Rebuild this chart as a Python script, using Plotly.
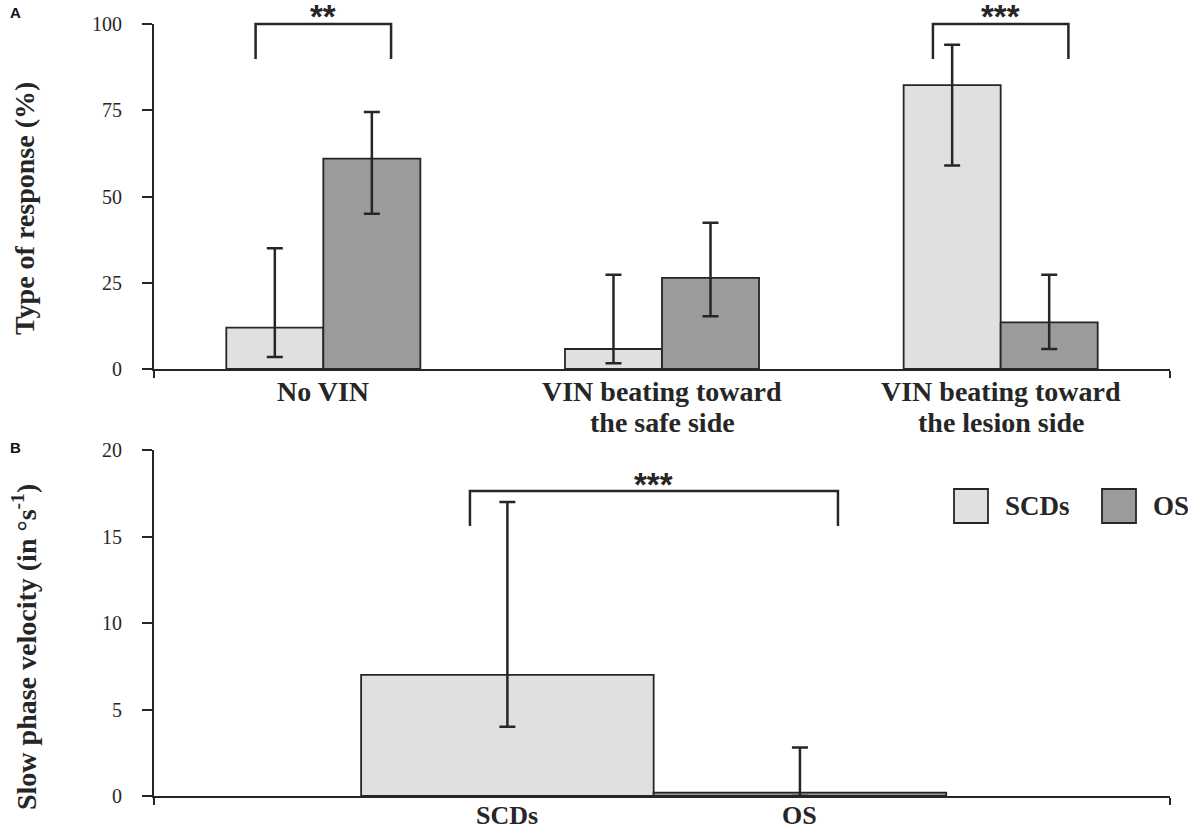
import plotly.graph_objects as go

W, H = 1188, 830

# ---------------- data ----------------
# Panel A
cat_a = ["No VIN", "VIN beating toward|the safe side", "VIN beating toward|the lesion side"]
scd_a = [12.0, 5.8, 82.3]
scd_a_hi = [35.0, 27.3, 94.0]
scd_a_lo = [3.5, 1.7, 59.0]
os_a = [61.0, 26.4, 13.5]
os_a_hi = [74.5, 42.4, 27.3]
os_a_lo = [45.0, 15.3, 5.8]
yticks_a = [0, 25, 50, 75, 100]

# Panel B
cat_b = ["SCDs", "OS"]
val_b = [7.0, 0.2]
val_b_hi = [17.0, 2.8]
val_b_lo = [4.0, 0.0]
yticks_b = [0, 5, 10, 15, 20]

series_names = ["SCDs", "OS"]
LIGHT = "#e0e0e0"
DARK = "#9b9b9b"
INK = "#262626"

SERIF = "Liberation Serif, Times New Roman, serif"
SANS = "Liberation Sans, Arial, sans-serif"


def px(x):
    return x / W


def py(y):
    return 1 - y / H


fig = go.Figure()

# domains
xdom = [px(154), px(1170)]
ydom_a = [py(369), py(24)]
ydom_b = [py(796), py(450)]

bw = 0.2865
xa = list(range(len(cat_a)))


def err(vals, hi, lo):
    return dict(type="data", symmetric=False,
                array=[h - v for v, h in zip(vals, hi)],
                arrayminus=[v - l for v, l in zip(vals, lo)],
                color=INK, thickness=2.5, width=8)


fig.add_trace(go.Bar(x=xa, y=scd_a, width=bw, offset=-bw, name=series_names[0],
                     marker=dict(color=LIGHT, line=dict(color=INK, width=1.8)),
                     error_y=err(scd_a, scd_a_hi, scd_a_lo),
                     xaxis="x", yaxis="y", showlegend=False))
fig.add_trace(go.Bar(x=xa, y=os_a, width=bw, offset=0, name=series_names[1],
                     marker=dict(color=DARK, line=dict(color=INK, width=1.8)),
                     error_y=err(os_a, os_a_hi, os_a_lo),
                     xaxis="x", yaxis="y", showlegend=False))

# Panel B
xb = [0, 1]
colors_b = [LIGHT, DARK]
for i in range(2):
    fig.add_trace(go.Bar(x=[xb[i]], y=[val_b[i]], width=1.0, offset=-0.5,
                         name=cat_b[i],
                         marker=dict(color=colors_b[i], line=dict(color=INK, width=1.8)),
                         error_y=err([val_b[i]], [val_b_hi[i]], [val_b_lo[i]]),
                         xaxis="x2", yaxis="y2", showlegend=False))

xr_a = [-0.5, 2.5]
xr_b = [-1.208, 2.265]

axis_common = dict(showline=True, linecolor=INK, linewidth=2, showgrid=False,
                   zeroline=False, ticks="outside", tickcolor=INK, tickwidth=2,
                   automargin=False)

yfont = dict(family=SERIF, size=20, color=INK)

fig.update_layout(
    width=W, height=H,
    margin=dict(l=0, r=0, t=0, b=0, pad=0),
    paper_bgcolor="white", plot_bgcolor="white",
    barmode="overlay",
    xaxis=dict(domain=xdom, range=xr_a, anchor="y", tickvals=[xr_a[0], xr_a[1]],
               ticklen=7, showticklabels=False, **axis_common),
    yaxis=dict(domain=ydom_a, range=[0, 100], anchor="x", tickvals=yticks_a,
               ticklen=10, tickfont=yfont, ticklabelstandoff=16, **axis_common),
    xaxis2=dict(domain=xdom, range=xr_b, anchor="y2", tickvals=[xr_b[0], xr_b[1]],
                ticklen=7, showticklabels=False, **axis_common),
    yaxis2=dict(domain=ydom_b, range=[0, 20], anchor="x2", tickvals=yticks_b,
                ticklen=10, tickfont=yfont, ticklabelstandoff=16, **axis_common),
    showlegend=False,
)

ann = []
shapes = []

# panel letters
for letter, ypos in (("A", 12), ("B", 447)):
    ann.append(dict(text="<b>%s</b>" % letter, x=px(8), y=py(ypos), xref="paper", yref="paper",
                    xanchor="left", yanchor="middle", showarrow=False,
                    font=dict(family=SANS, size=15, color="#111")))

# y titles
ann.append(dict(text="<b>Type of response (%)</b>", x=px(24), y=py(209),
                xref="paper", yref="paper", textangle=-90, showarrow=False,
                xanchor="center", yanchor="middle",
                font=dict(family=SERIF, size=28, color=INK)))
ann.append(dict(text="<b>Slow phase velocity (in °s<sup>-1</sup>)</b>", x=px(24), y=py(647),
                xref="paper", yref="paper", textangle=-90, showarrow=False,
                xanchor="center", yanchor="middle",
                font=dict(family=SERIF, size=28, color=INK)))

# category labels panel A
for i, c in enumerate(cat_a):
    for j, ln in enumerate(c.split("|")):
        ann.append(dict(text="<b>%s</b>" % ln, x=xa[i], xref="x",
                        y=py(392 + 30 * j), yref="paper", showarrow=False,
                        xanchor="center", yanchor="middle",
                        font=dict(family=SERIF, size=28, color=INK)))

# category labels panel B
for i, c in enumerate(cat_b):
    ann.append(dict(text="<b>%s</b>" % c, x=xb[i], xref="x2",
                    y=py(815), yref="paper", showarrow=False,
                    xanchor="center", yanchor="middle",
                    font=dict(family=SERIF, size=26, color=INK)))


# significance brackets
def bracket(xref, x0, x1, ytop_px, ybot_px, stars):
    shapes.append(dict(type="path", xref=xref, yref="paper",
                       path="M %f,%f L %f,%f L %f,%f L %f,%f" % (
                           x0, py(ybot_px), x0, py(ytop_px), x1, py(ytop_px), x1, py(ybot_px)),
                       line=dict(color=INK, width=2.5)))
    ann.append(dict(text="<b>%s</b>" % stars, x=(x0 + x1) / 2, xref=xref,
                    y=py(ytop_px - 7), yref="paper", showarrow=False,
                    xanchor="center", yanchor="middle",
                    font=dict(family=SANS, size=33, color=INK)))


bracket("x", -0.2, 0.2, 24, 59, "**")
bracket("x", 1.8, 2.2, 24, 59, "***")
bracket("x2", -0.128, 1.13, 491, 526, "***")

# legend (manual)
leg = [(954, LIGHT, "SCDs"), (1102, DARK, "OS")]
for x0, col, name in leg:
    shapes.append(dict(type="rect", xref="paper", yref="paper",
                       x0=px(x0), x1=px(x0 + 34), y0=py(523), y1=py(489),
                       fillcolor=col, line=dict(color=INK, width=1.8)))
    ann.append(dict(text="<b>%s</b>" % name, x=px(x0 + 49), y=py(506),
                    xref="paper", yref="paper", showarrow=False,
                    xanchor="left", yanchor="middle",
                    font=dict(family=SERIF, size=27, color=INK)))

fig.update_layout(annotations=ann, shapes=shapes)
fig.write_html("out.html", config={"displayModeBar": False},
               post_script="document.body.style.margin='0';document.body.style.overflow='hidden';")
